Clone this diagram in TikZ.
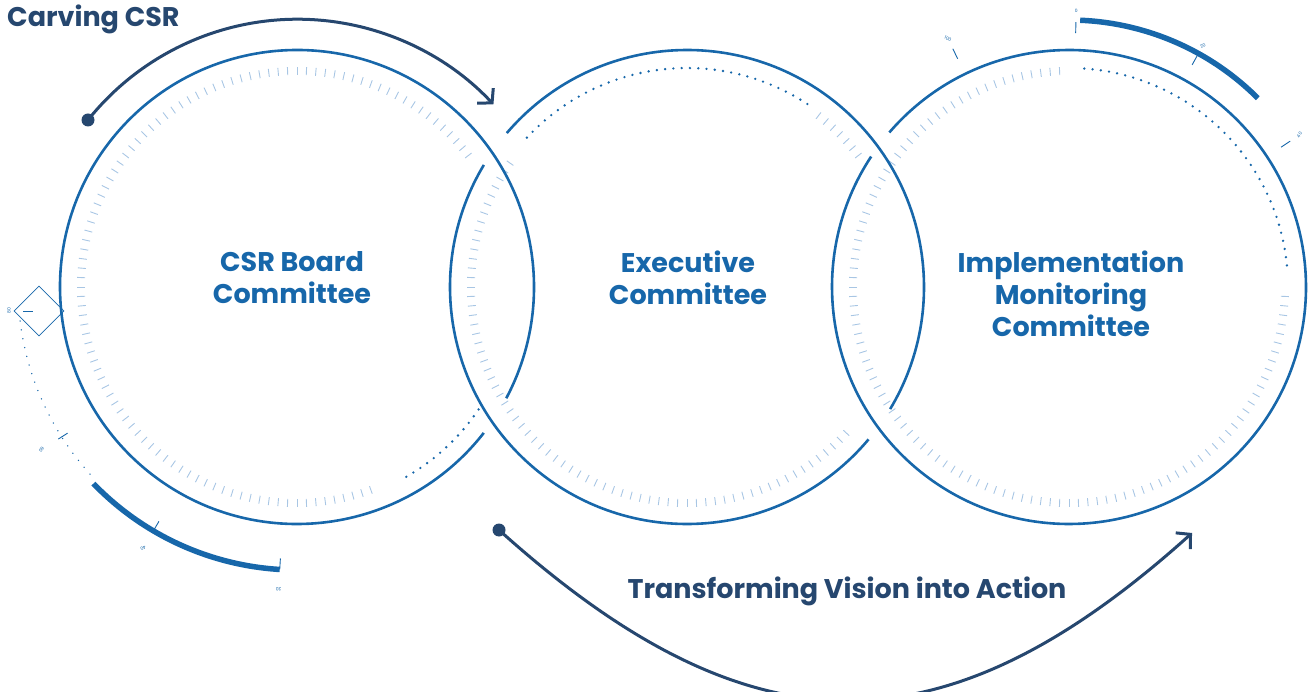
\documentclass[tikz,border=0pt]{standalone}
\usepackage{fontspec}
\setmainfont{Poppins}
\usetikzlibrary{arrows.meta,positioning,shapes.geometric,calc}
\definecolor{ringblue}{HTML}{1767AA}
\definecolor{navy}{HTML}{26476F}
\definecolor{tickblue}{HTML}{A8C6E4}

\begin{document}
\begin{tikzpicture}[x=1pt,y=-1pt,
  ring/.style={ringblue,line width=2.6pt},
  scaletick/.style={tickblue,line width=0.9pt},
  dotarc/.style={ringblue,line width=2.6pt,line cap=round,dash pattern=on 0pt off 8.3pt},
  finedots/.style={ringblue,line width=1.5pt,line cap=round,dash pattern=on 0pt off 9pt},
  gaugeband/.style={ringblue,line width=5.5pt},
  gaugetick/.style={ringblue,line width=0.9pt},
  gaugelabel/.style={font=\fontsize{4.5}{5}\selectfont,text=ringblue,inner sep=0pt},
  title/.style={font=\bfseries\fontsize{27}{32}\selectfont,text=ringblue,align=center},
  headline/.style={font=\bfseries\fontsize{27}{32}\selectfont,text=navy},
  flow/.style={navy,line width=3pt,-{Straight Barb[length=10pt,width=22pt]}},
  startdot/.style={circle,fill=navy,inner sep=0pt,minimum size=13pt}
]
\useasboundingbox (0,0) rectangle (1312,692);
\coordinate (cL) at (297,287);
\coordinate (cM) at (687,287);
\coordinate (cR) at (1069,287);

% inner scales
\foreach \a in {70,72.5,...,322.5} \draw[scaletick] (cL) ++(\a:212) -- ++(\a:8);
\foreach \a in {42.5,45,...,215} \draw[scaletick] (cM) ++(\a:212) -- ++(\a:8);
\foreach \a in {307.5,310,...,322.5} \draw[scaletick] (cM) ++(\a:212) -- ++(\a:8);
\foreach \a in {2.5,5,...,267.5} \draw[scaletick] (cR) ++(\a:212) -- ++(\a:8);
\draw[dotarc] (cL) ++(34:219) arc[start angle=34,end angle=62,radius=219];
\draw[dotarc] (cM) ++(223:219) arc[start angle=223,end angle=304.5,radius=219];
\draw[dotarc] (cR) ++(274:219) arc[start angle=274,end angle=355.5,radius=219];

% interlocking rings
\draw[ring] (cL) ++(38:237) arc[start angle=38,end angle=388,radius=237];
\draw[ring] (cM) ++(40:237) arc[start angle=40,end angle=211,radius=237];
\draw[ring] (cM) ++(220.5:237) arc[start angle=220.5,end angle=391,radius=237];
\draw[ring] (cR) ++(220.7:237) arc[start angle=220.7,end angle=573.4,radius=237];

% left gauge
\draw[finedots] (cL) ++(173:279) arc[start angle=173,end angle=137,radius=279];
\draw[gaugeband] (cL) ++(136:283) arc[start angle=136,end angle=93.5,radius=283];
\foreach \a/\v in {147.5/60,120.5/40,93.5/20} {
  \draw[gaugetick] (cL) ++(\a:272) -- ++(\a:11);
  \node[gaugelabel,rotate=\a+90] at ($(cL)+(\a:303)$) {\v};
}
\node[draw=ringblue,line width=0.8pt,diamond,minimum size=50pt,inner sep=0pt] (marker) at (39,311) {};
\draw[gaugetick] (23,311) -- (33,311);
\node[gaugelabel,rotate=90] at (9,311) {80};

% right gauge
\draw[gaugeband] (cR) ++(272.4:267) arc[start angle=272.4,end angle=315,radius=267];
\foreach \a/\v in {244/100,271.5/0,299/20,326.6/40} {
  \draw[gaugetick] (cR) ++(\a:254) -- ++(\a:11);
  \node[gaugelabel,rotate=\a+90] at ($(cR)+(\a:276)$) {\v};
}

% labels
\node[title] (board) at (292,278) {CSR Board\\Committee};
\node[title] (exec) at (688,278) {Executive\\Committee};
\node[title] (impl) at (1071,294) {Implementation\\Monitoring\\Committee};
\node[headline,anchor=base west,inner sep=0pt] (carving) at (7,27) {Carving CSR};
\node[headline,anchor=base,inner sep=0pt] (vision) at (847,598) {Transforming Vision into Action};

% flow arrows
\node[startdot] (carveStart) at (88,120) {};
\draw[flow] (carveStart.center) arc[start angle=218.6,end angle=317,radius=268];
\node[startdot] (visionStart) at (499,530) {};
\coordinate (visionEnd) at (1192,533);
\draw[flow] (visionStart.center) .. controls (749,755) and (942,758) .. (visionEnd);
\end{tikzpicture}
\end{document}
